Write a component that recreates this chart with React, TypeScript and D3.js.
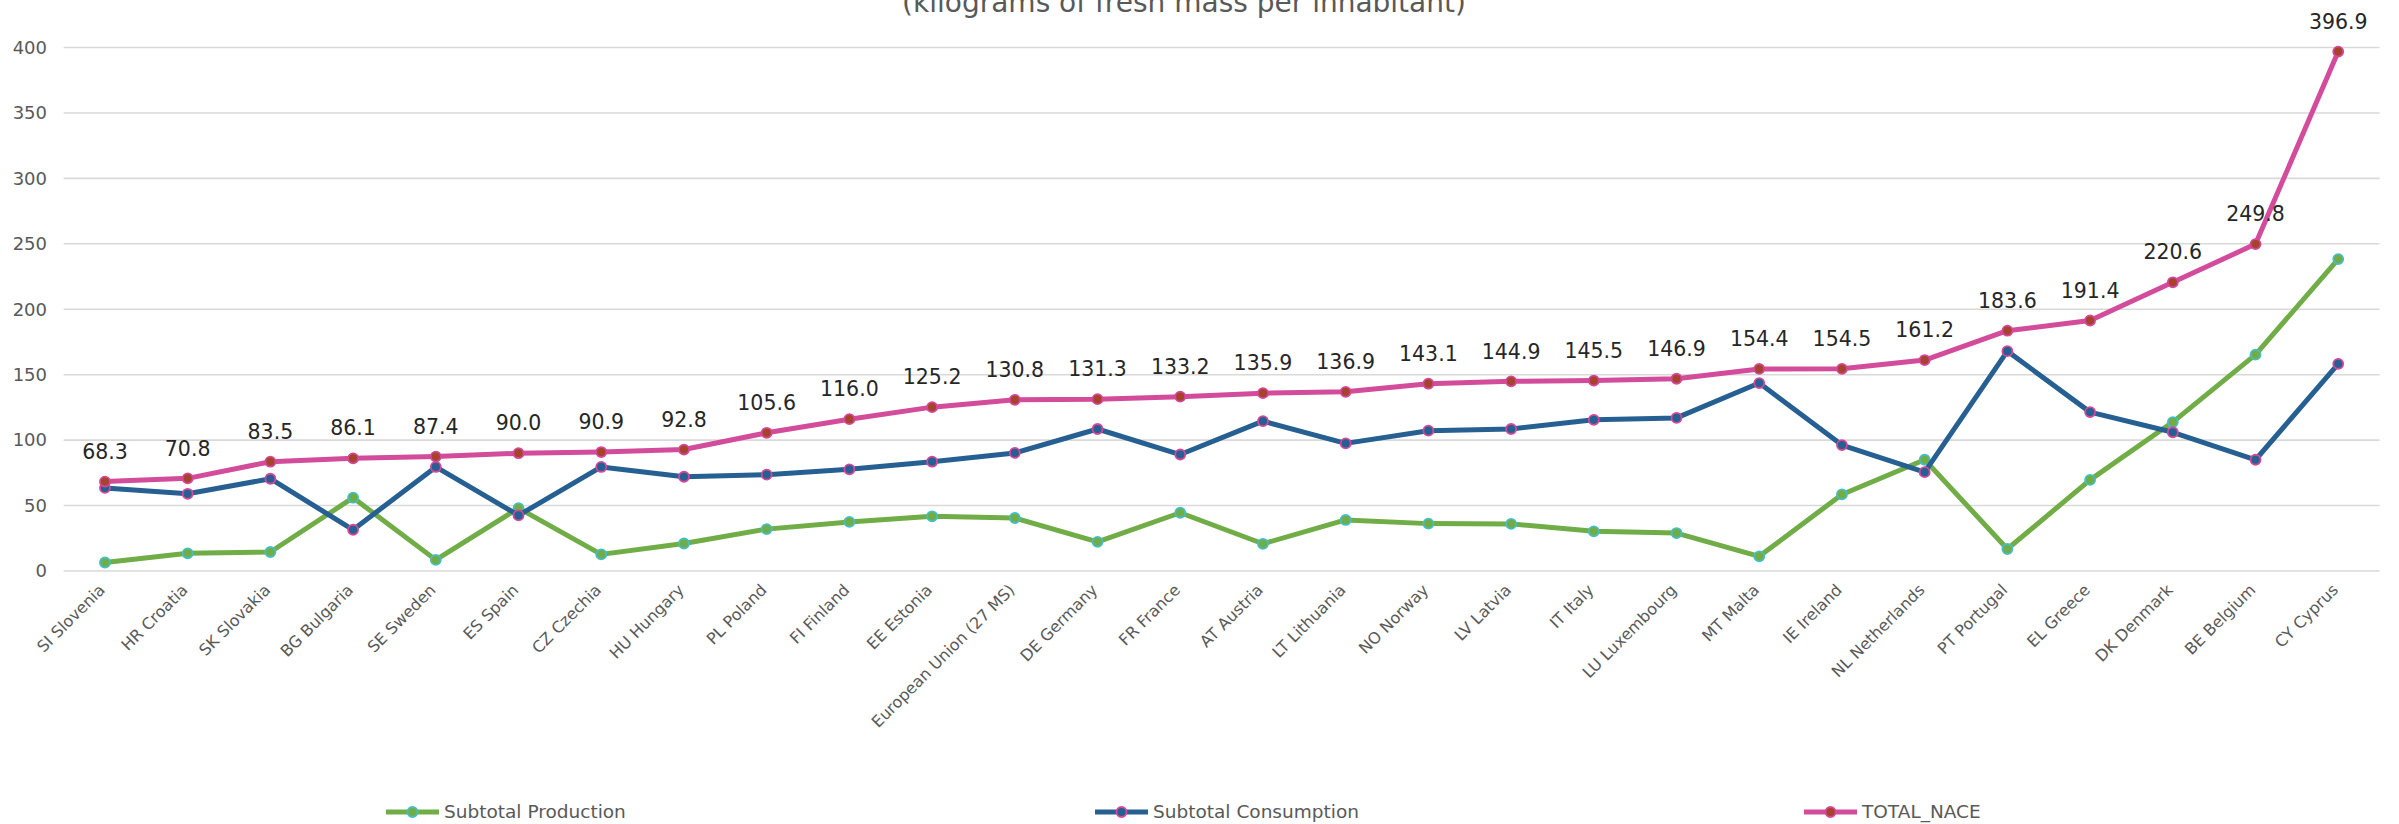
import React from 'react';
import * as d3 from 'd3';

// categories, sorted by TOTAL_NACE
const countries = [
  'SI Slovenia', 'HR Croatia', 'SK Slovakia', 'BG Bulgaria', 'SE Sweden', 'ES Spain',
  'CZ Czechia', 'HU Hungary', 'PL Poland', 'FI Finland', 'EE Estonia',
  'European Union (27 MS)', 'DE Germany', 'FR France', 'AT Austria', 'LT Lithuania',
  'NO Norway', 'LV Latvia', 'IT Italy', 'LU Luxembourg', 'MT Malta', 'IE Ireland',
  'NL Netherlands', 'PT Portugal', 'EL Greece', 'DK Denmark', 'BE Belgium', 'CY Cyprus',
];

const production = [
  6.5, 13.5, 14.5, 56, 8.5, 48, 12.7, 21, 32, 37.5, 41.8, 40.5, 22.3, 44.5,
  20.8, 39, 36.2, 36, 30.3, 29, 11.2, 58.5, 85, 16.8, 69.6, 113.8, 165.3, 238.3,
];

const consumption = [
  63.5, 59, 70.5, 31.5, 79.5, 42.5, 79.5, 72, 73.6, 77.7, 83.5, 90.2, 108.5, 89,
  114.5, 97.5, 107.2, 108.5, 115.5, 117, 143.6, 96.2, 75.5, 168, 121.4, 106, 85, 158.3,
];

const totalNace = [
  68.3, 70.8, 83.5, 86.1, 87.4, 90.0, 90.9, 92.8, 105.6, 116.0, 125.2, 130.8, 131.3, 133.2,
  135.9, 136.9, 143.1, 144.9, 145.5, 146.9, 154.4, 154.5, 161.2, 183.6, 191.4, 220.6, 249.8, 396.9,
];

const yTicks = [0, 50, 100, 150, 200, 250, 300, 350, 400];
const seriesNames = ['Subtotal Production', 'Subtotal Consumption', 'TOTAL_NACE'];
const titleText = '(kilograms of fresh mass per inhabitant)';

const width = 2399;
const height = 824;
const margin = { top: 47.5, right: 19.4, bottom: 253, left: 63.6 };
const font = '"DejaVu Sans", sans-serif';

const styles = [
  { line: '#70AD47', fill: '#70AD47', stroke: '#43BFC7' },
  { line: '#265F91', fill: '#265F91', stroke: '#D6479B' },
  { line: '#D24C9B', fill: '#A5432B', stroke: '#D6479B' },
];

const App: React.FC = () => {
  const x = d3
    .scaleBand<string>()
    .domain(countries)
    .range([margin.left, width - margin.right]);
  const y = d3
    .scaleLinear()
    .domain([0, 400])
    .range([height - margin.bottom, margin.top]);
  const cx = (c: string) => (x(c) ?? 0) + x.bandwidth() / 2;

  const series = [production, consumption, totalNace].map((vals, i) => ({
    name: seriesNames[i],
    points: countries.map((c, j) => ({ c, v: vals[j] })),
    style: styles[i],
  }));

  const line = d3
    .line<{ c: string; v: number }>()
    .x((d) => cx(d.c))
    .y((d) => y(d.v));

  // legend slots
  const legendX = d3.scalePoint<string>().domain(seriesNames).range([386, 1804]);
  const legendY = 812;

  return (
    <svg
      width={width}
      height={height}
      style={{ position: 'absolute', left: 0, top: 0, background: '#fff' }}
      fontFamily={font}>
      <text x={1184} y={12} textAnchor="middle" fontSize={28} fill="#595959">
        {titleText}
      </text>

      {/* gridlines + y labels */}
      {yTicks.map((t) => (
        <g key={t}>
          <line
            x1={margin.left}
            x2={width - margin.right}
            y1={y(t)}
            y2={y(t)}
            stroke="#D9D9D9"
            strokeWidth={1.6}
          />
          <text
            x={47}
            y={y(t)}
            dy="0.35em"
            textAnchor="end"
            fontSize={18}
            fill="#595959">
            {t}
          </text>
        </g>
      ))}

      {/* x labels */}
      {countries.map((c) => (
        <text
          key={c}
          transform={`translate(${cx(c) - 3},${y(0) + 16}) rotate(-45)`}
          dy="0.35em"
          textAnchor="end"
          fontSize={16}
          fill="#595959">
          {c}
        </text>
      ))}

      {/* series */}
      {series.map((s) => (
        <g key={s.name}>
          <path
            d={line(s.points) ?? ''}
            fill="none"
            stroke={s.style.line}
            strokeWidth={5}
            strokeLinejoin="round"
          />
          {s.points.map((p) => (
            <circle
              key={p.c}
              cx={cx(p.c)}
              cy={y(p.v)}
              r={5}
              fill={s.style.fill}
              stroke={s.style.stroke}
              strokeWidth={1.8}
            />
          ))}
        </g>
      ))}

      {/* data labels on TOTAL_NACE */}
      {countries.map((c, i) => (
        <text
          key={c}
          x={cx(c)}
          y={y(totalNace[i]) - 30}
          dy="0.35em"
          textAnchor="middle"
          fontSize={20.5}
          fill="#262626">
          {totalNace[i].toFixed(1)}
        </text>
      ))}

      {/* legend */}
      {series.map((s) => {
        const lx = legendX(s.name) ?? 0;
        return (
          <g key={s.name} transform={`translate(${lx},${legendY})`}>
            <line x1={0} x2={53} y1={0} y2={0} stroke={s.style.line} strokeWidth={5} />
            <circle cx={26.5} cy={0} r={5} fill={s.style.fill} stroke={s.style.stroke} strokeWidth={1.8} />
            <text x={58} y={0} dy="0.35em" fontSize={18.5} fill="#595959">
              {s.name}
            </text>
          </g>
        );
      })}
    </svg>
  );
};

export default App;
